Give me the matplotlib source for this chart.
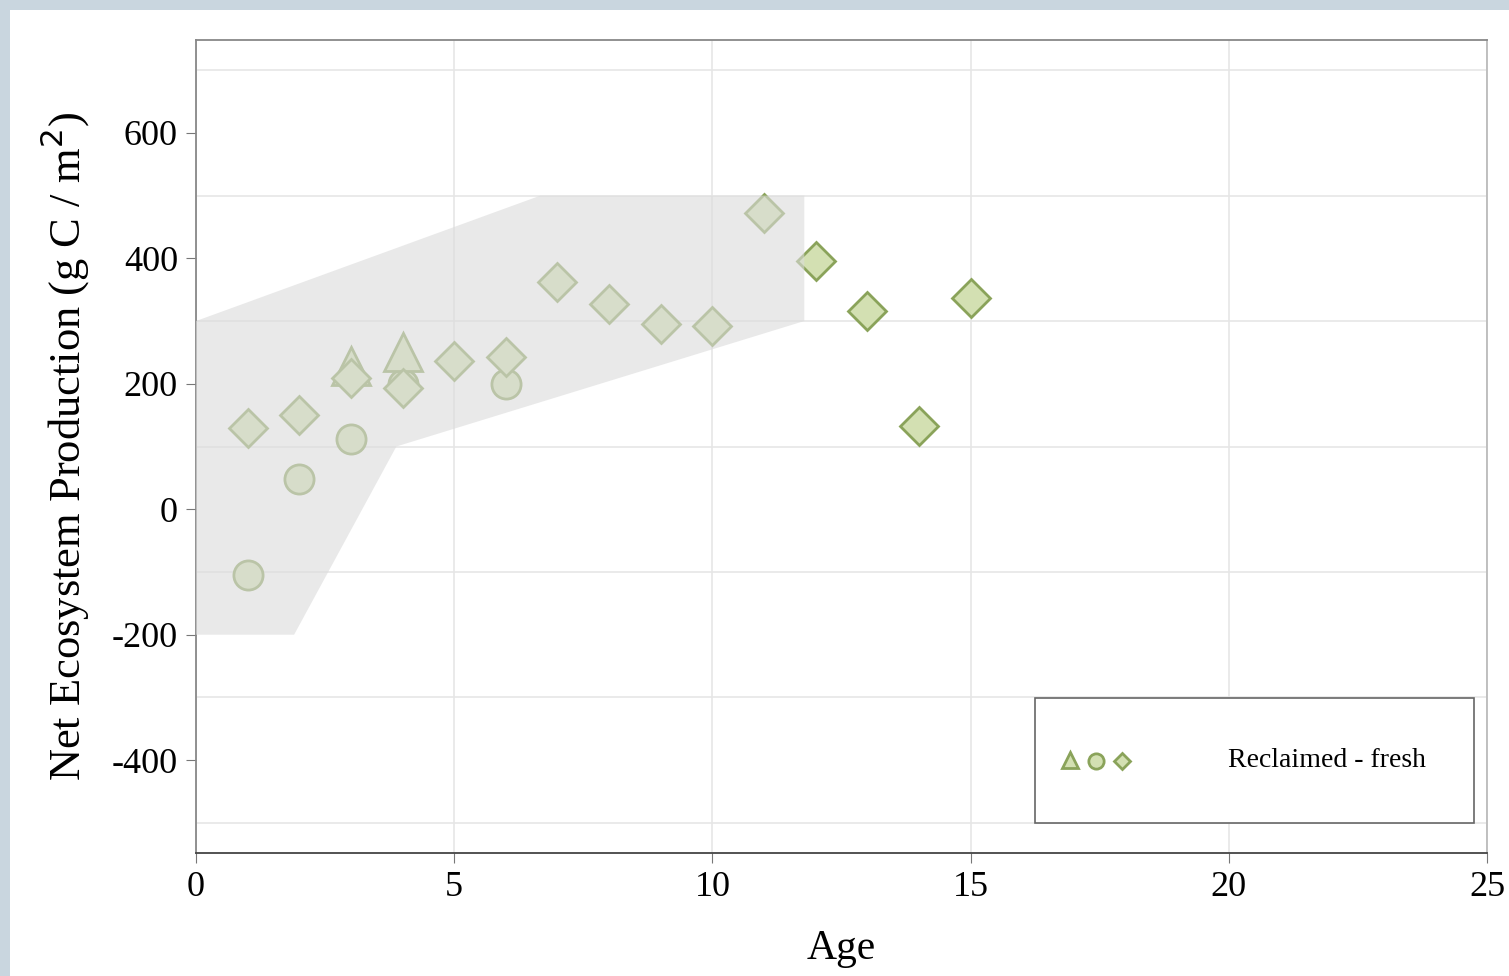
import numpy as np
import matplotlib
matplotlib.use("Agg")
import matplotlib.pyplot as plt
from matplotlib.patches import Polygon, Rectangle

plt.rcParams['font.family'] = ['Liberation Serif', 'DejaVu Serif']
plt.rcParams['axes.unicode_minus'] = False

# data
diamond_age = [1, 2, 3, 4, 5, 6, 7, 8, 9, 10, 11, 12, 13, 14, 15]
diamond_nep = [129, 151, 209, 193, 236, 242, 362, 327, 296, 292, 473, 395, 316, 132, 336]
circle_age = [1, 2, 3, 4, 6]
circle_nep = [-105, 48, 112, 200, 199]
triangle_age = [3, 4]
triangle_nep = [229, 251]

# grey envelope (age, NEP)
band_age = [0, 6.67, 11.78, 11.78, 3.88, 1.9, 0]
band_nep = [300, 500, 500, 300, 100, -200, -200]

fill_c = '#d3e0b2'
edge_c = '#8aa35a'

fig = plt.figure(figsize=(15.09, 9.76), dpi=100)
fig.patch.set_facecolor('#c9d6df')
fig.patches.append(Rectangle((10/1509, 0), 1, 1 - 10/976, transform=fig.transFigure,
                             facecolor='white', edgecolor='none', zorder=-10))

ax = fig.add_axes([196/1509, 1 - 853/976, (1487-196)/1509, (853-40)/976])
ax.set_xlim(0, 25)
ax.set_ylim(-548, 748)

ax.set_xticks([0, 5, 10, 15, 20, 25])
ax.set_yticks([-400, -200, 0, 200, 400, 600])
ax.set_yticks([-500, -300, -100, 100, 300, 500, 700], minor=True)
ax.grid(True, axis='x', which='major', color='#e6e6e6', lw=1.2)
ax.grid(True, axis='y', which='minor', color='#e6e6e6', lw=1.2)
ax.tick_params(axis='y', which='minor', length=0)
ax.tick_params(axis='both', which='major', labelsize=26, length=7, color='#777777', pad=6)
ax.set_axisbelow(True)

ax.spines['bottom'].set_color('#444444')
ax.spines['left'].set_color('#888888')
ax.spines['top'].set_color('#888888')
ax.spines['right'].set_color('#bbbbbb')
for s in ax.spines.values():
    s.set_linewidth(1.3)

ax.plot(diamond_age, diamond_nep, 'D', ms=19, mfc=fill_c, mec=edge_c, mew=2, zorder=3)
ax.plot(circle_age, circle_nep, 'o', ms=21, mfc=fill_c, mec=edge_c, mew=2, zorder=2)
ax.plot(triangle_age, triangle_nep, '^', ms=27, mfc=fill_c, mec=edge_c, mew=2, zorder=2)

band = Polygon(np.column_stack([band_age, band_nep]), closed=True,
               facecolor='#dbdbdb', edgecolor='none', alpha=0.6, zorder=5, clip_on=False)
ax.add_patch(band)

ax.set_xlabel('Age', fontsize=30, labelpad=18)
ax.set_ylabel('Net Ecosystem Production (g C / m$^2$)', fontsize=32, labelpad=14)

# legend box
ax.add_patch(Rectangle((0.650, 0.037), 0.340, 0.154, transform=ax.transAxes,
                       facecolor='white', edgecolor='#666666', lw=1.2, zorder=6))
ax.plot([0.677], [0.114], '^', ms=12, mfc=fill_c, mec=edge_c, mew=2, transform=ax.transAxes, zorder=7)
ax.plot([0.697], [0.113], 'o', ms=11, mfc=fill_c, mec=edge_c, mew=2, transform=ax.transAxes, zorder=7)
ax.plot([0.717], [0.113], 'D', ms=8.5, mfc=fill_c, mec=edge_c, mew=2, transform=ax.transAxes, zorder=7)
ax.text(0.799, 0.114, 'Reclaimed - fresh', fontsize=20, va='center', ha='left',
        transform=ax.transAxes, zorder=7)

fig.savefig('out.png', dpi=100, facecolor=fig.get_facecolor())
